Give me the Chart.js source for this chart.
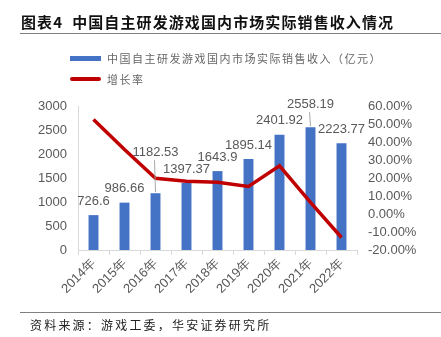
<!DOCTYPE html>
<html>
<head>
<meta charset="utf-8">
<script src="https://cdn.jsdelivr.net/npm/chart.js@4.4.0/dist/chart.umd.min.js"></script>
<style>
  html, body { margin: 0; padding: 0; background: #fff; }
  body { width: 441px; height: 337px; position: relative; overflow: hidden; font-family: "Noto Sans CJK SC", sans-serif; }
  #title { position: absolute; left: 21px; top: 10px; font-size: 15px; font-weight: bold; letter-spacing: 1.1px; color: #111; white-space: nowrap; line-height: 24px; }
  .rule { position: absolute; left: 20px; right: 0; height: 1px; background: #808080; }
  .legend { position: absolute; left: 70px; font-size: 11px; letter-spacing: 1.5px; color: #666; white-space: nowrap; line-height: 16px; }
  .legend .mark { position: absolute; left: 0; width: 31px; }
  .legend span { position: absolute; left: 37px; top: 0; }
  #source { position: absolute; left: 30px; top: 316px; font-size: 12px; letter-spacing: 2.2px; color: #222; white-space: nowrap; line-height: 18px; }
  #wrap { position: absolute; left: 0; top: 0; width: 441px; height: 337px; }
</style>
</head>
<body>
<div id="wrap"><canvas id="chart"></canvas></div>
<div id="title">图表4&nbsp;&nbsp;中国自主研发游戏国内市场实际销售收入情况</div>
<div class="rule" style="top:33px"></div>
<div class="legend" style="top:50px"><div class="mark" style="top:6px;height:5px;background:#4472C4"></div><span>中国自主研发游戏国内市场实际销售收入（亿元）</span></div>
<div class="legend" style="top:71px"><div class="mark" style="top:6px;height:4px;border-radius:2px;background:#C00000"></div><span>增长率</span></div>
<div class="rule" style="top:312px"></div>
<div id="source">资料来源：游戏工委，华安证券研究所</div>
<script>
document.addEventListener("DOMContentLoaded", function() {

    // Dati
    const anni = ['2014年', '2015年', '2016年', '2017年', '2018年', '2019年', '2020年', '2021年', '2022年'];
    const ricavi = [726.6, 986.66, 1182.53, 1397.37, 1643.9, 1895.14, 2401.92, 2558.19, 2223.77];
    const crescita = [52.5, 35.8, 19.85, 18.17, 17.64, 15.28, 26.74, 6.51, -13.07];

    const grigio = '#595959';
    const fontAssi = { family: '"Liberation Sans", Arial, sans-serif', size: 13 };

    // Etichette sopra le barre (alcune sollevate con linea guida)
    const sollevamento = { 2: 27, 7: 9 };
    const etichetteBarre = {
        id: 'etichetteBarre',
        afterDatasetsDraw(chart) {
            const ctx = chart.ctx;
            const meta = chart.getDatasetMeta(1);
            ctx.save();
            ctx.font = '13px "Liberation Sans", Arial, sans-serif';
            ctx.fillStyle = grigio;
            ctx.textAlign = 'center';
            ctx.textBaseline = 'middle';
            meta.data.forEach((bar, i) => {
                const lift = sollevamento[i] || 0;
                const y = bar.y - 14 - lift;
                if (lift) {
                    ctx.strokeStyle = '#a6a6a6';
                    ctx.lineWidth = 1;
                    ctx.beginPath();
                    ctx.moveTo(bar.x, bar.y - 1);
                    ctx.lineTo(bar.x - 1, y + 8);
                    ctx.stroke();
                }
                ctx.fillText(String(ricavi[i]), bar.x, y);
            });
            ctx.restore();
        }
    };

    const ctx = document.getElementById('chart').getContext('2d');
    new Chart(ctx, {
        data: {
            labels: anni,
            datasets: [{
                type: 'line',
                label: '增长率',
                data: crescita,
                yAxisID: 'y1',
                borderColor: '#C00000',
                borderWidth: 3.5,
                pointRadius: 0,
                tension: 0,
                order: 0
            }, {
                type: 'bar',
                label: '中国自主研发游戏国内市场实际销售收入（亿元）',
                data: ricavi,
                yAxisID: 'y',
                backgroundColor: '#4472C4',
                barPercentage: 0.32,
                categoryPercentage: 1,
                order: 1
            }]
        },
        options: {
            responsive: true,
            maintainAspectRatio: false,
            animation: false,
            layout: { padding: { top: 106, left: 0, right: 0, bottom: 0 } },
            plugins: {
                legend: { display: false },
                tooltip: { enabled: false }
            },
            scales: {
                x: {
                    grid: { offset: true, drawOnChartArea: false, tickLength: 5, color: '#d9d9d9' },
                    border: { color: '#d9d9d9' },
                    ticks: { minRotation: 45, maxRotation: 45, color: grigio, font: fontAssi, padding: 1 },
                    afterFit(s) { s.height = 87; }
                },
                y: {
                    position: 'left',
                    min: 0, max: 3000,
                    grid: { display: false, drawTicks: false },
                    border: { display: true, color: '#d9d9d9' },
                    ticks: { stepSize: 500, autoSkip: false, color: grigio, font: fontAssi, padding: 11,
                        callback: v => String(v) },
                    afterFit(s) { s.width = 78; }
                },
                y1: {
                    position: 'right',
                    min: -20, max: 60,
                    grid: { display: false, drawTicks: false },
                    border: { display: false },
                    ticks: {
                        stepSize: 10, autoSkip: false, color: grigio, font: fontAssi, padding: 11,
                        callback: v => v.toFixed(2) + '%'
                    },
                    afterFit(s) { s.width = 84; }
                }
            }
        },
        plugins: [etichetteBarre]
    });
});
</script>
</body>
</html>
